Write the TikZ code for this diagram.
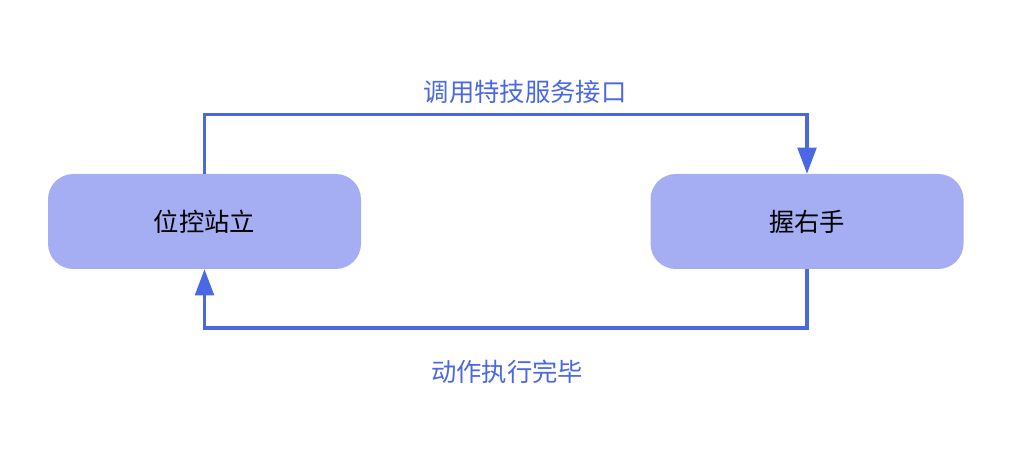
\documentclass[tikz,border=0pt]{standalone}
\usepackage{fontspec}
\newfontfamily\cjk{Noto Sans CJK SC}
\usetikzlibrary{arrows.meta}
\definecolor{nodefill}{HTML}{A6AEF3}
\definecolor{linecol}{HTML}{4A67E6}
\begin{document}
\begin{tikzpicture}[x=0.75pt,y=-0.75pt,
  statebox/.style={draw=none,fill=nodefill,rounded corners=19pt,minimum width=234.75pt,minimum height=71.25pt,inner sep=0pt,font=\cjk\fontsize{19}{21}\selectfont,text=black},
  conn/.style={draw=linecol,line width=2.3pt,-{Triangle[length=19.5pt,width=14pt]}},
  lbl/.style={font=\cjk\fontsize{19}{21}\selectfont,text=linecol}]
\useasboundingbox (0,0) rectangle (1012,459);
\node[statebox] (a) at (204.5,221.5) {位控站立};
\node[statebox] (b) at (807,221.5) {握右手};
\coordinate (t1) at (204.5,114.5);
\coordinate (t2) at (807,114.5);
\coordinate (b1) at (807,328);
\coordinate (b2) at (204.5,328);
\draw[conn] (a.north) -- (t1) -- (t2) -- (b.north);
\draw[conn] (b.south) -- (b1) -- (b2) -- (a.south);
\node[lbl] (l1) at (525,92) {调用特技服务接口};
\node[lbl] (l2) at (507,372) {动作执行完毕};
\end{tikzpicture}
\end{document}
